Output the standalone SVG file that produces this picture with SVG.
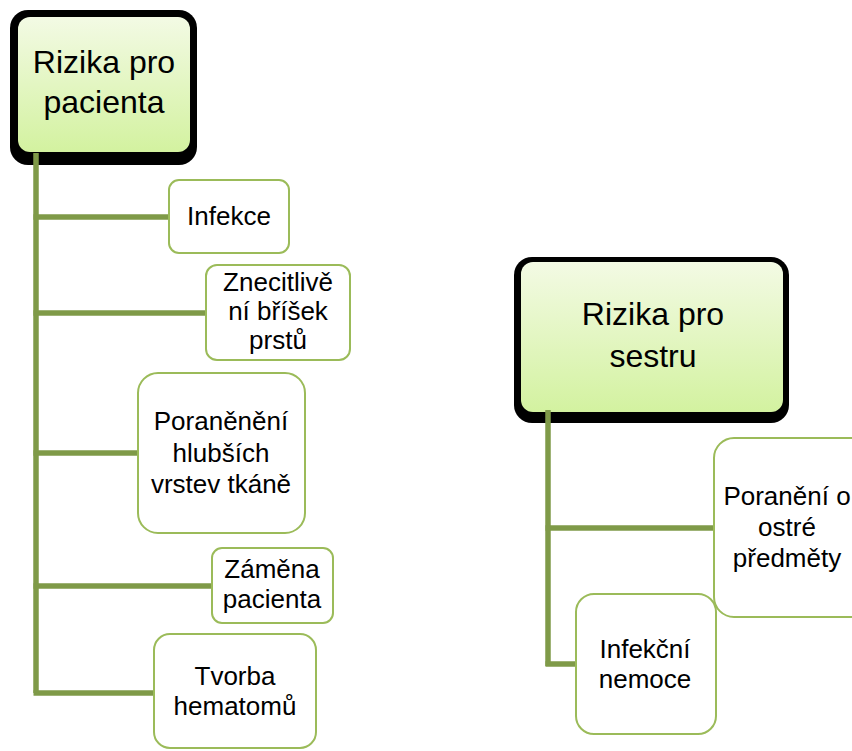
<svg xmlns="http://www.w3.org/2000/svg" width="852" height="751" viewBox="0 0 852 751">
<defs>
<linearGradient id="hg" x1="0" y1="0" x2="0" y2="1">
<stop offset="0" stop-color="#f3fae4"/>
<stop offset="1" stop-color="#d3f2a0"/>
</linearGradient>
<style>
.shadow{fill:#000}
.head{fill:url(#hg)}
.box{fill:#fff;stroke:#9bbb59;stroke-width:2}
.ht{font-family:"Liberation Sans",Arial,sans-serif;font-size:32px;fill:#000;text-anchor:middle}
.bt{font-family:"Liberation Sans",Arial,sans-serif;font-size:26px;fill:#000;text-anchor:middle}
.con{fill:none;stroke:#7f9a48;stroke-width:5.5;stroke-linecap:butt;stroke-linejoin:miter}
</style>
</defs>
<rect width="852" height="751" fill="#fff"/>
<g id="head1">
<rect class="shadow" x="10" y="10" width="187" height="155" rx="18"/>
<rect class="head" x="18" y="17" width="172" height="135" rx="12"/>
<text class="ht" x="104" y="73">Rizika pro</text>
<text class="ht" x="104" y="113">pacienta</text>
</g>
<g id="head2">
<rect class="shadow" x="514" y="257" width="275" height="166" rx="18"/>
<rect class="head" x="521" y="262" width="262" height="150" rx="12"/>
<text class="ht" x="653" y="325">Rizika pro</text>
<text class="ht" x="653" y="367">sestru</text>
</g>
<g id="connectors">
<path class="con" d="M36,153 V693"/>
<path class="con" d="M33.5,217 H170"/>
<path class="con" d="M33.5,313 H207"/>
<path class="con" d="M33.5,453 H139"/>
<path class="con" d="M33.5,586 H213"/>
<path class="con" d="M33.5,693 H155"/>
<path class="con" d="M548,410 V666"/>
<path class="con" d="M545.5,528 H715"/>
<path class="con" d="M545.5,664 H577"/>
</g>
<g id="n-infekce">
<rect class="box" x="169" y="180" width="120" height="73" rx="10"/>
<text class="bt" x="229" y="225">Infekce</text>
</g>
<g id="n-znecitliveni">
<rect class="box" x="206" y="265" width="144" height="95" rx="11"/>
<text class="bt" x="278" y="291">Znecitlivě</text>
<text class="bt" x="278" y="320">ní bříšek</text>
<text class="bt" x="278" y="349">prstů</text>
</g>
<g id="n-poraneni-hlubsich">
<rect class="box" x="138" y="373" width="167" height="160" rx="20"/>
<text class="bt" x="221" y="430">Poraněnění</text>
<text class="bt" x="221" y="462">hlubších</text>
<text class="bt" x="221" y="493">vrstev tkáně</text>
</g>
<g id="n-zamena">
<rect class="box" x="212" y="548" width="121" height="75" rx="10"/>
<text class="bt" x="272" y="578">Záměna</text>
<text class="bt" x="272" y="608">pacienta</text>
</g>
<g id="n-tvorba">
<rect class="box" x="154" y="634" width="162" height="114" rx="16"/>
<text class="bt" x="235" y="685">Tvorba</text>
<text class="bt" x="235" y="715">hematomů</text>
</g>
<g id="n-poraneni-ostre">
<rect class="box" x="714" y="438" width="160" height="179" rx="20"/>
<text class="bt" x="787" y="505">Poranění o</text>
<text class="bt" x="787" y="536">ostré</text>
<text class="bt" x="787" y="567">předměty</text>
</g>
<g id="n-infekcni">
<rect class="box" x="576" y="594" width="140" height="140" rx="18"/>
<text class="bt" x="645" y="658">Infekční</text>
<text class="bt" x="645" y="688">nemoce</text>
</g>
</svg>
